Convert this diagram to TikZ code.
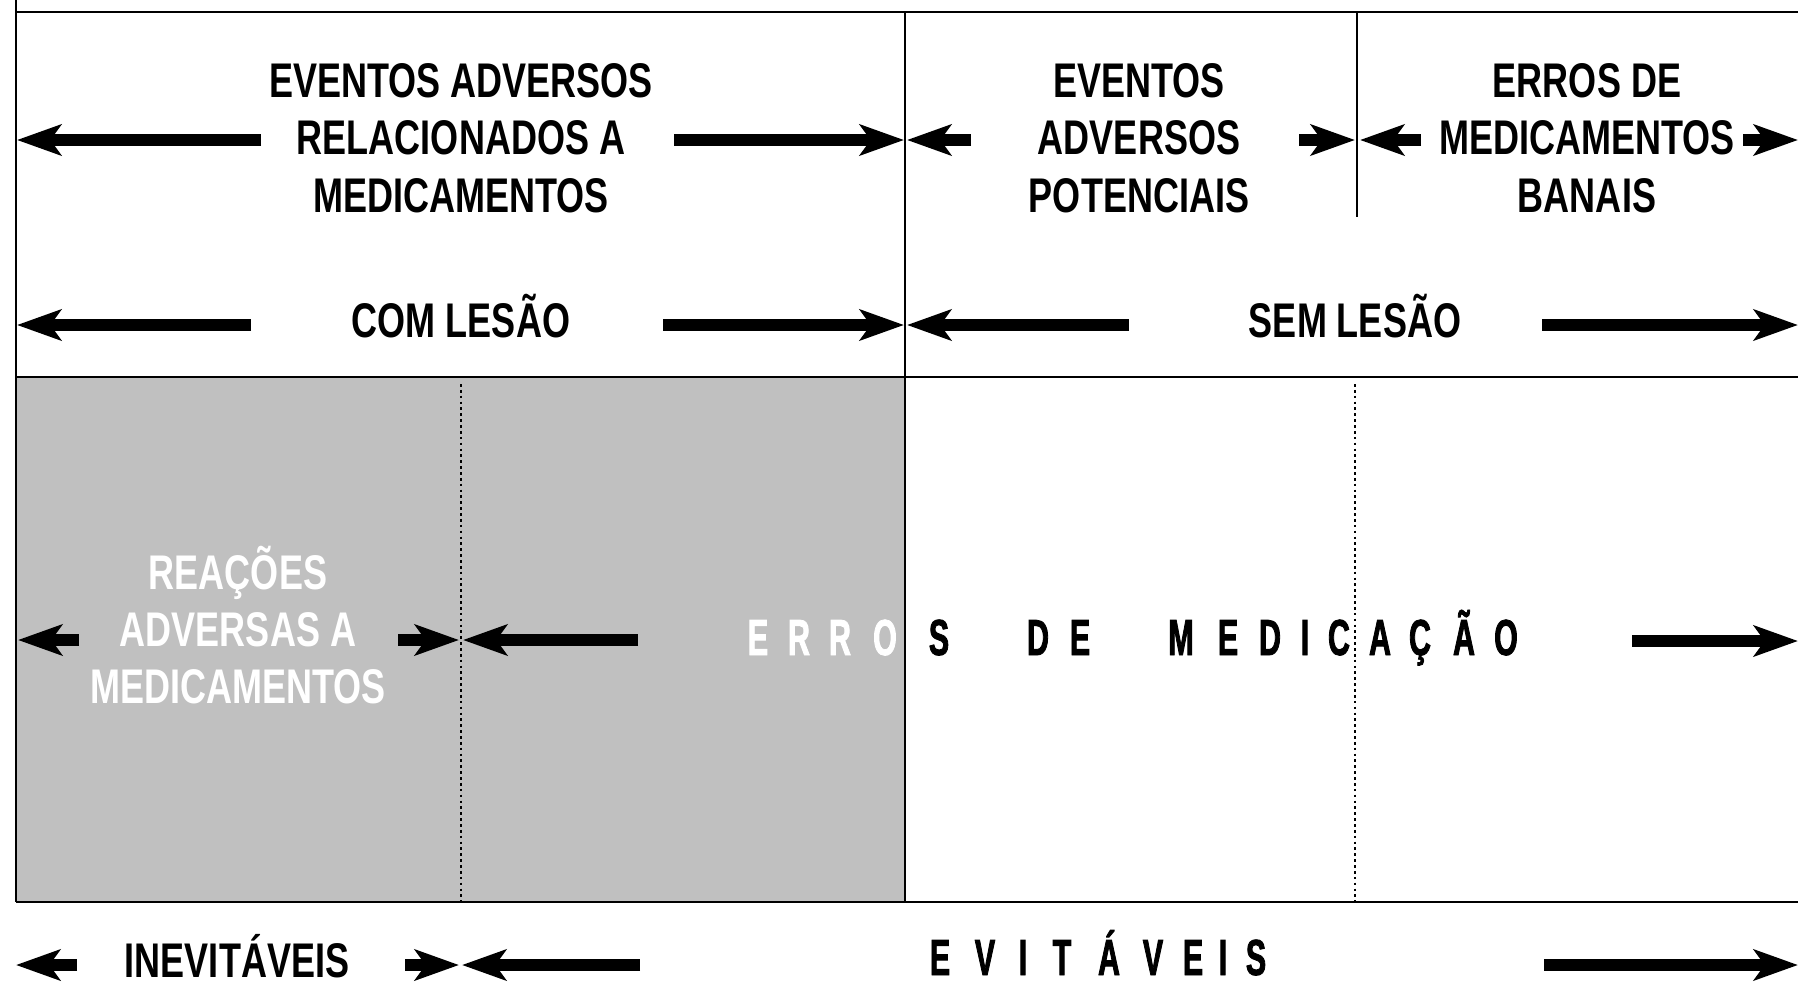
\documentclass[tikz,border=0pt]{standalone}
\usepackage{fontspec}
\usetikzlibrary{arrows.meta}
\newfontfamily\condfont[FakeStretch=0.74]{Liberation Sans}
\newfontfamily\spacedfont[FakeStretch=0.6,FakeBold=1.6]{Liberation Sans}
\definecolor{shadegrey}{RGB}{192,192,192}

\tikzset{
  gridline/.style={line width=1.9pt},
  divider/.style={line width=2pt, dash pattern={on 2pt off 2.4pt}},
  fatarrow/.style={line width=9pt, -{Stealth[length=33pt,width=23pt,inset=8pt]}},
  celltext/.style={font=\condfont\bfseries\fontsize{36.5}{43}\selectfont, align=center, inner sep=0pt},
  spacedletter/.style={font=\spacedfont\bfseries\fontsize{38}{44}\selectfont, inner sep=0pt, anchor=base}
}

\begin{document}
\begin{tikzpicture}[x=0.75pt,y=0.75pt,yscale=-1,xscale=1]
\useasboundingbox (0,0) rectangle (1798,985);

% shaded part
\fill[shadegrey] (16,377) rectangle (905,902);

% frame
\draw[gridline] (16,0) -- (16,902);
\draw[gridline] (16,12) -- (1798,12);
\draw[gridline] (16,377) -- (1798,377);
\draw[gridline] (16,902) -- (1798,902);
\draw[gridline] (905,12) -- (905,902);
\draw[gridline] (1357,12) -- (1357,217);

% dotted dividers
\draw[divider] (461,384) -- (461,906);
\draw[divider] (1355,384) -- (1355,906);

% cell texts
\node[celltext] (eam) at (461,138) {EVENTOS ADVERSOS\\RELACIONADOS A\\MEDICAMENTOS};
\node[celltext] (eap) at (1139,138) {EVENTOS\\ADVERSOS\\POTENCIAIS};
\node[celltext] (emb) at (1587,138) {ERROS DE\\MEDICAMENTOS\\BANAIS};
\node[celltext, anchor=base] (com) at (461,337) {COM LESÃO};
\node[celltext, anchor=base] (sem) at (1355,337) {SEM LESÃO};
\node[celltext, text=white] (ram) at (238,625) {REAÇÕES\\ADVERSAS A\\MEDICAMENTOS};
\node[celltext, anchor=base] (inev) at (237,977) {INEVITÁVEIS};

% spaced words
\foreach \ch/\x [count=\i] in {E/758,R/799,R/840,O/885}
  \node[spacedletter, text=white] (erro\i) at (\x,655) {\ch};
\foreach \ch/\x [count=\i] in {S/939,D/1038,E/1080,M/1181,E/1228,D/1270,I/1305,C/1339,A/1380,Ç/1420,Ã/1464,O/1506}
  \node[spacedletter] (med\i) at (\x,655) {\ch};
\foreach \ch/\x [count=\i] in {E/940,V/985,I/1023,T/1062,Á/1109,V/1153,E/1193,I/1223,S/1256}
  \node[spacedletter] (evit\i) at (\x,975) {\ch};

% arrows
\foreach \tx/\hx/\y [count=\i] in {261/17/140, 674/904/140, 971/907/140, 1299/1355/140, 1421/1360/140, 1743/1798/140,
    251/17/325, 663/904/325, 1129/907/325, 1542/1798/325,
    79/18/640, 398/459/640, 638/463/640, 1632/1798/641,
    77/16/965, 405/459/965, 640/462/965, 1544/1798/965}
{
  \coordinate (tail\i) at (\tx,\y);
  \coordinate (tip\i) at (\hx,\y);
  \draw[fatarrow] (tail\i) -- (tip\i);
}

\end{tikzpicture}
\end{document}
